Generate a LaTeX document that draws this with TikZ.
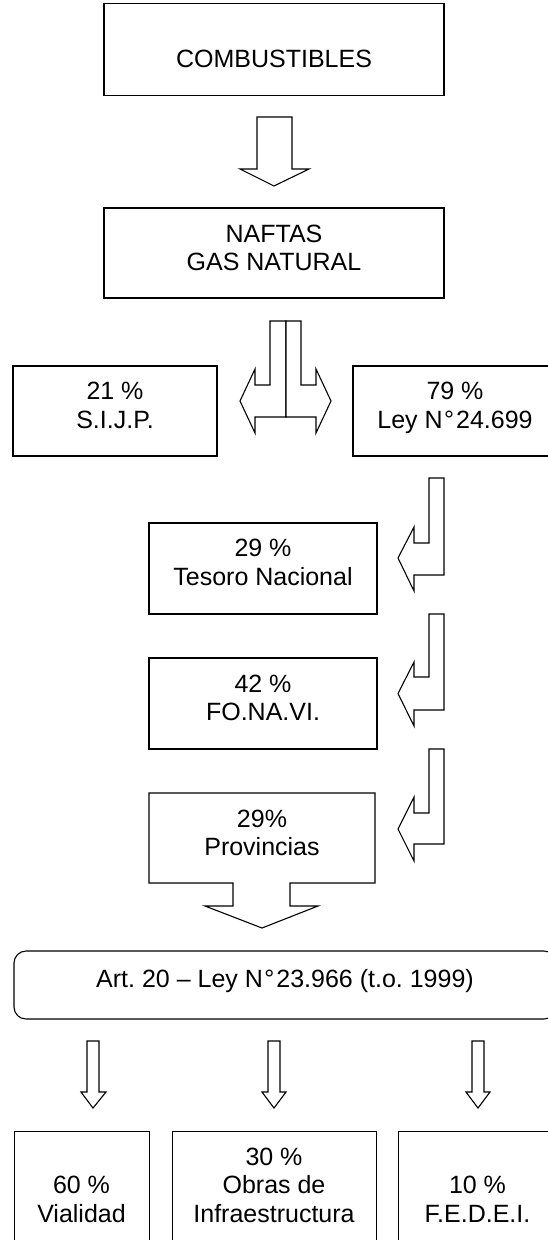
\documentclass[tikz,border=0pt]{standalone}
\usepackage{fontspec}
\setmainfont{Liberation Sans}
\frenchspacing
\newcommand{\degsym}{\kern1.5pt°\kern2pt}
\begin{document}
\begin{tikzpicture}[x=1pt,y=-1pt,
  line width=1.1pt, line join=miter,
  box/.style={draw, rectangle, inner sep=0pt},
  txt/.style={anchor=base, inner sep=0pt, font=\fontsize{25}{29}\selectfont\frenchspacing},
  blockarrow/.style={draw, fill=white}]
\useasboundingbox (0,0) rectangle (548,1240);
\clip (0,0) rectangle (548,1240);

% boxes
\node[box, minimum width=340pt, minimum height=92pt] (comb) at (274,49.5) {};
\node[txt] (combT) at (274,67) {COMBUSTIBLES};

\draw[blockarrow] (257,117) -- (292,117) -- (292,169) -- (309,169) -- (274,186) -- (240,169) -- (257,169) -- cycle;

\node[box, minimum width=340pt, minimum height=90pt] (naf) at (274,253) {};
\node[txt] (nafA) at (274,242) {NAFTAS};
\node[txt] (nafB) at (274,270) {GAS NATURAL};

% split arrow
\draw[blockarrow] (286,321) -- (270,321) -- (270,385) -- (255,385) -- (255,369) -- (240,401) -- (255,433) -- (255,417) -- (286,417) -- cycle;
\draw[blockarrow] (286,321) -- (301,321) -- (301,385) -- (316,385) -- (316,369) -- (331,401) -- (316,433) -- (316,417) -- (286,417) -- cycle;

\node[box, minimum width=204pt, minimum height=90pt] (sijp) at (115,411) {};
\node[txt] (sijpA) at (115,399) {21 \%};
\node[txt] (sijpB) at (115,428) {S.I.J.P.};

\node[box, minimum width=204pt, minimum height=90pt] (ley) at (455,411) {};
\node[txt] (leyA) at (455,399) {79 \%};
\node[txt] (leyB) at (455,428) {Ley N\degsym 24.699};

% bent arrows
\draw[blockarrow] (429,478) -- (444,478) -- (444,575) -- (414,575) -- (414,591) -- (398,558) -- (414,527) -- (414,543) -- (429,543) -- cycle;

\node[box, minimum width=228pt, minimum height=91pt] (tes) at (263,568.5) {};
\node[txt] (tesA) at (263,556) {29 \%};
\node[txt] (tesB) at (263,585) {Tesoro Nacional};

\draw[blockarrow] (429,614) -- (444,614) -- (444,710) -- (414,710) -- (414,726) -- (398,693.5) -- (414,662) -- (414,677) -- (429,677) -- cycle;

\node[box, minimum width=228pt, minimum height=91pt] (fon) at (263,703.5) {};
\node[txt] (fonA) at (263,692) {42 \%};
\node[txt] (fonB) at (263,720) {FO.NA.VI.};

\draw[blockarrow] (429,749) -- (444,749) -- (444,844) -- (414,844) -- (414,861) -- (398,829) -- (414,797) -- (414,813) -- (429,813) -- cycle;

% Provincias box with down arrow
\coordinate (prov) at (262,838);
\draw (149,793) -- (375,793) -- (375,883) -- (290,883) -- (290,906) -- (318,906) -- (262,928) -- (205,906) -- (233,906) -- (233,883) -- (149,883) -- cycle;
\node[txt] (provA) at (262,827) {29\%};
\node[txt] (provB) at (262,855) {Provincias};

% rounded box
\node[draw, rectangle, rounded corners=12pt, minimum width=542pt, minimum height=68pt, inner sep=0pt] (art) at (285,985) {};
\node[txt] (artT) at (285,987) {Art. 20 – Ley N\degsym 23.966 (t.o. 1999)};

% small arrows
\draw[blockarrow] (87,1041) -- (99,1041) -- (99,1092) -- (106,1092) -- (93,1108) -- (81,1092) -- (87,1092) -- cycle;
\draw[blockarrow] (268,1041) -- (280,1041) -- (280,1092) -- (286,1092) -- (274,1108) -- (262,1092) -- (268,1092) -- cycle;
\draw[blockarrow] (472,1041) -- (484,1041) -- (484,1092) -- (490,1092) -- (478,1108) -- (466,1092) -- (472,1092) -- cycle;

% bottom boxes
\node[box, minimum width=135pt, minimum height=150pt, anchor=north west] (via) at (14,1131) {};
\node[txt] (viaA) at (81.5,1193) {60 \%};
\node[txt] (viaB) at (81.5,1222) {Vialidad};

\node[box, minimum width=204pt, minimum height=150pt, anchor=north west] (obr) at (172,1131) {};
\node[txt] (obrA) at (274,1165) {30 \%};
\node[txt] (obrB) at (274,1193) {Obras de};
\node[txt] (obrC) at (274,1222) {Infraestructura};

\node[box, minimum width=159pt, minimum height=150pt, anchor=north west] (fed) at (398,1131) {};
\node[txt] (fedA) at (477.5,1193) {10 \%};
\node[txt] (fedB) at (477.5,1222) {F.E.D.E.I.};
\end{tikzpicture}
\end{document}
